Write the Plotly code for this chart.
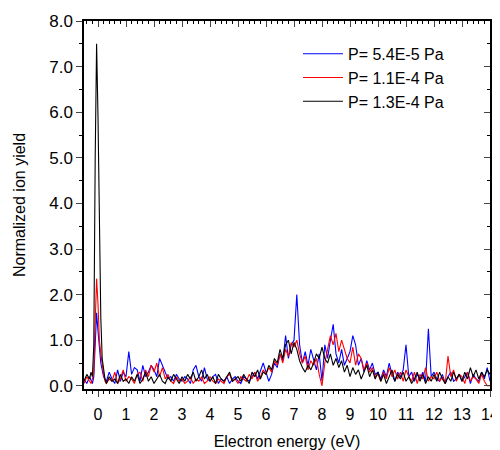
import numpy as np
import plotly.graph_objects as go

# energy grid (eV): coarse, fine around the 0 eV peak, then coarse again
energy = np.round(np.concatenate([
    np.arange(-0.5, -0.25, 0.1),
    np.arange(-0.25, 0.26, 0.05),
    np.arange(0.3, 14.01, 0.1),
]), 3)

labels = ["P= 5.4E-5 Pa", "P= 1.1E-4 Pa", "P= 1.3E-4 Pa"]
colors = ["#0000ff", "#ff0000", "#000000"]

yield_54e5 = [
    0.15, 0.05, 0.2,
    0.1, 0.05, 0.2, 0.9, 1.6, 1.2, 0.8, 0.5, 0.35, 0.2, 0.15,
    0.1, 0.3, 0.15, 0.05, 0.35, 0.1, 0.3,
    0.2, 0.75, 0.25, 0.4, 0.35, 0.1, 0.45, 0.2, 0.3, 0.45,
    0.35, 0.2, 0.6, 0.45, 0.3, 0.15, 0.2, 0.1, 0.25, 0.15,
    0.1, 0.2, 0.15, 0.05, 0.35, 0.45, 0.2, 0.1, 0.4, 0.15,
    0.1, 0.2, 0.25, 0.05, 0.15, 0.1, 0.2, 0.05, 0.15, 0.2,
    0.1, 0.05, 0.2, 0.15, 0.1, 0.2, 0.3, 0.15, 0.35, 0.5,
    0.3, 0.1, 0.25, 0.5, 0.4, 0.7, 0.55, 1.1, 0.6, 0.9,
    1.0, 2.0, 0.9, 0.5, 0.75, 0.45, 0.8, 0.6, 0.35, 0.7,
    0.1, 0.9, 0.6, 1.0, 1.35, 0.7, 0.5, 0.8, 0.45, 0.6,
    0.75, 1.1, 0.9, 0.45, 0.6, 0.3, 0.55, 0.35, 0.5, 0.25,
    0.3, 0.15, 0.35, 0.2, 0.5, 0.25, 0.1, 0.3, 0.2, 0.35,
    0.9, 0.2, 0.3, 0.1, 0.25, 0.15, 0.3, 0.1, 1.25, 0.2,
    0.3, 0.15, 0.1, 0.25, 0.05, 0.2, 0.3, 0.1, 0.15, 0.25,
    0.1, 0.2, 0.3, 0.05, 0.25, 0.15, 0.1, 0.3, 0.15, 0.4,
    0.1,
]

yield_11e4 = [
    0.05, 0.2, 0.1,
    0.05, 0.15, 0.3, 1.4, 2.35, 1.8, 1.0, 0.7, 0.4, 0.25, 0.1,
    0.05, 0.15, 0.1, 0.3, 0.05, 0.15, 0.35,
    0.1, 0.2, 0.15, 0.05, 0.25, 0.3, 0.1, 0.35, 0.2, 0.45,
    0.3, 0.5, 0.2, 0.4, 0.15, 0.25, 0.1, 0.05, 0.2, 0.1,
    0.15, 0.05, 0.1, 0.2, 0.05, 0.15, 0.1, 0.2, 0.05, 0.1,
    0.2, 0.1, 0.05, 0.15, 0.1, 0.05, 0.2, 0.25, 0.1, 0.15,
    0.05, 0.2, 0.15, 0.1, 0.25, 0.15, 0.3, 0.1, 0.2, 0.35,
    0.25, 0.4, 0.3, 0.55, 0.45, 0.7, 0.5, 0.8, 0.65, 0.95,
    0.85, 1.0, 0.7, 0.5, 0.65, 0.35, 0.55, 0.45, 0.6, 0.25,
    0.0, 0.5, 0.8, 1.1, 0.9, 1.15, 0.75, 1.0, 0.8, 0.6,
    0.5, 0.85, 0.45, 0.7, 0.6, 0.35, 0.5, 0.3, 0.4, 0.2,
    0.25, 0.1, 0.3, 0.15, 0.4, 0.2, 0.35, 0.15, 0.3, 0.1,
    0.35, 0.2, 0.1, 0.3, 0.05, 0.25, 0.15, 0.4, 0.1, 0.2,
    0.15, 0.3, 0.1, 0.2, 0.05, 0.65, 0.2, 0.35, 0.1, 0.25,
    0.2, 0.05, 0.3, 0.1, 0.2, 0.15, 0.05, 0.25, 0.1, 0.0,
    0.0,
]

yield_13e4 = [
    0.1, 0.25, 0.15,
    0.3, 0.2, 0.9, 5.0, 7.5, 5.9, 3.5, 1.5, 0.6, 0.3, 0.15,
    0.05, 0.2, 0.1, 0.15, 0.05, 0.25, 0.1,
    0.15, 0.05, 0.2, 0.1, 0.25, 0.05, 0.15, 0.3, 0.1, 0.2,
    0.05, 0.15, 0.25, 0.1, 0.05, 0.2, 0.1, 0.25, 0.15, 0.05,
    0.2, 0.1, 0.25, 0.15, 0.3, 0.1, 0.2, 0.35, 0.15, 0.25,
    0.1, 0.2, 0.05, 0.25, 0.15, 0.1, 0.2, 0.3, 0.1, 0.15,
    0.2, 0.1, 0.25, 0.15, 0.05, 0.3, 0.2, 0.35, 0.15, 0.3,
    0.25, 0.45, 0.35, 0.6, 0.5, 0.8, 0.6, 0.9, 1.0, 0.7,
    0.95, 0.8, 0.55, 0.4, 0.3, 0.45, 0.35, 0.5, 0.7, 0.6,
    0.85, 0.6, 0.5, 0.7, 0.45, 0.6, 0.4, 0.55, 0.3, 0.45,
    0.2, 0.4, 0.25, 0.35, 0.15, 0.3, 0.45, 0.2, 0.35, 0.15,
    0.3, 0.1, 0.25, 0.05, 0.2, 0.35, 0.1, 0.25, 0.15, 0.3,
    0.1, 0.2, 0.05, 0.15, 0.3, 0.1, 0.25, 0.05, 0.2, 0.1,
    0.25, 0.1, 0.3, 0.15, 0.05, 0.2, 0.1, 0.3, 0.15, 0.25,
    0.1, 0.3, 0.15, 0.4, 0.2, 0.35, 0.15, 0.3, 0.2, 0.35,
    0.25,
]

series = [yield_54e5, yield_11e4, yield_13e4]

fig = go.Figure()
for name, col, ys in zip(labels, colors, series):
    fig.add_trace(go.Scatter(x=energy, y=ys, mode="lines", name=name,
                             line=dict(color=col, width=1.1)))

# invisible trace on the mirror axes so the inward ticks show on top/right
fig.add_trace(go.Scatter(x=[energy[0]], y=[0], xaxis="x2", yaxis="y2",
                         mode="markers", marker=dict(opacity=0),
                         showlegend=False, hoverinfo="skip"))

font = "Liberation Sans, Arial, sans-serif"
xr = [-0.5, 14]
yr = [-0.07, 8]

# page body has an 8px margin, so the figure is sized to fit inside the window
fig.update_layout(
    width=492, height=442,
    margin=dict(l=76, r=10, t=13, b=61),
    paper_bgcolor="white", plot_bgcolor="white",
    font=dict(family=font, size=16, color="black"),
    showlegend=True,
    legend=dict(x=0.527, y=0.957, xanchor="left", yanchor="top",
                bgcolor="rgba(0,0,0,0)", font=dict(size=16),
                tracegroupgap=0, itemwidth=40),
    xaxis=dict(range=xr, dtick=1, tick0=0, ticks="outside", ticklen=6,
               tickwidth=1, showline=True, linecolor="black", linewidth=1.5,
               showgrid=False, zeroline=False, automargin=False,
               ticklabelstandoff=4, ticklabeloverflow="allow",
               tickfont=dict(size=16),
               minor=dict(dtick=0.2, tick0=0, ticks="outside", ticklen=3,
                          tickcolor="black"),
               title=dict(text="Electron energy (eV)", standoff=14,
                          font=dict(size=16))),
    yaxis=dict(range=yr, dtick=1, tick0=0, tickformat=".1f",
               ticks="outside", ticklen=6, tickwidth=1, showline=True,
               linecolor="black", linewidth=1.5, showgrid=False,
               zeroline=False, automargin=False, tickfont=dict(size=17),
               minor=dict(dtick=0.5, tick0=0, ticks="outside", ticklen=3,
                          tickcolor="black"),
               title=dict(text="Normalized ion yield", standoff=20,
                          font=dict(size=16))),
    xaxis2=dict(range=xr, overlaying="x", side="top", dtick=1, tick0=0,
                ticks="inside", ticklen=6, showticklabels=False,
                showline=True, linecolor="black", linewidth=1.5,
                showgrid=False, zeroline=False, automargin=False,
                minor=dict(dtick=0.2, tick0=0, ticks="inside", ticklen=3,
                           tickcolor="black")),
    yaxis2=dict(range=yr, overlaying="y", side="right", dtick=1, tick0=0,
                ticks="inside", ticklen=6, showticklabels=False,
                showline=True, linecolor="black", linewidth=1.5,
                showgrid=False, zeroline=False, automargin=False,
                minor=dict(dtick=0.5, tick0=0, ticks="inside", ticklen=3,
                           tickcolor="black")),
)

fig.write_html("out.html")
